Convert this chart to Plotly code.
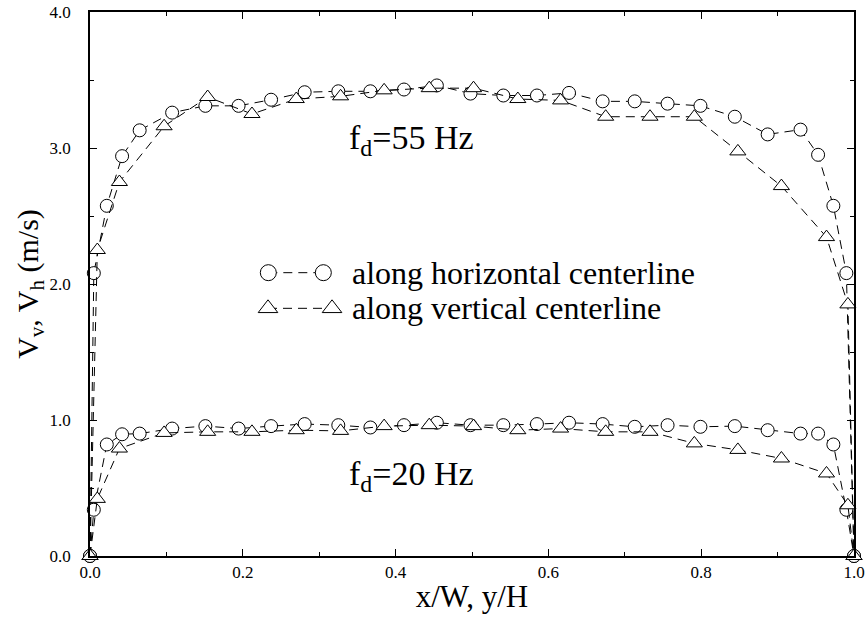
import plotly.graph_objects as go

# ---- data ----
x_h = [0.0, 0.005, 0.022, 0.042, 0.065, 0.1075, 0.151, 0.1945, 0.237, 0.281, 0.325, 0.367,
       0.411, 0.454, 0.498, 0.541, 0.585, 0.627, 0.671, 0.713, 0.756, 0.799, 0.844, 0.887,
       0.930, 0.953, 0.973, 0.990, 1.0]
v55_h = [0.0, 2.08, 2.575, 2.94, 3.13, 3.26, 3.31, 3.31, 3.355, 3.41, 3.417, 3.417, 3.43,
         3.46, 3.40, 3.386, 3.386, 3.405, 3.343, 3.343, 3.326, 3.31, 3.23, 3.10, 3.135, 2.95,
         2.575, 2.08, 0.0]
v20_h = [0.0, 0.34, 0.82, 0.895, 0.90, 0.937, 0.955, 0.937, 0.955, 0.97, 0.962, 0.945, 0.962,
         0.98, 0.962, 0.962, 0.97, 0.98, 0.97, 0.95, 0.962, 0.95, 0.955, 0.925, 0.90, 0.90,
         0.82, 0.34, 0.0]

x_v = [0.0, 0.0096, 0.0385, 0.097, 0.154, 0.212, 0.270, 0.328, 0.385, 0.444, 0.502, 0.560,
       0.616, 0.675, 0.733, 0.791, 0.848, 0.905, 0.964, 0.992, 1.0]
v55_v = [0.0, 2.25, 2.75, 3.16, 3.375, 3.25, 3.36, 3.38, 3.424, 3.44, 3.44, 3.36, 3.35, 3.23,
         3.23, 3.23, 2.975, 2.72, 2.345, 1.85, 0.0]
v20_v = [0.0, 0.42, 0.79, 0.905, 0.913, 0.913, 0.925, 0.92, 0.955, 0.962, 0.955, 0.925, 0.937,
         0.913, 0.913, 0.828, 0.78, 0.717, 0.607, 0.373, 0.0]

legend_labels = ["along horizontal centerline", "along vertical centerline"]
freq_labels = ["f<sub>d</sub>=55 Hz", "f<sub>d</sub>=20 Hz"]
x_ticks = [0.0, 0.2, 0.4, 0.6, 0.8, 1.0]
y_ticks = [0.0, 1.0, 2.0, 3.0, 4.0]

FONT = "Liberation Serif, Times New Roman, serif"
DASH = "9px,6px"

fig = go.Figure()

def add_series(x, y, symbol, size):
    fig.add_trace(go.Scatter(
        x=x, y=y, mode="lines+markers", cliponaxis=False, showlegend=False,
        line=dict(color="black", width=1, dash=DASH),
        marker=dict(symbol=symbol, size=size, color="white",
                    line=dict(color="black", width=1)),
    ))

add_series(x_h, v55_h, "circle", 13)
add_series(x_v, v55_v, "triangle-up", 14)
add_series(x_h, v20_h, "circle", 13)
add_series(x_v, v20_v, "triangle-up", 14)

# custom legend samples drawn on an overlay axis in plot-fraction units
leg_rows = [
    dict(x=[0.2334, 0.3054], y=0.5208, symbol="circle", size=16),
    dict(x=[0.233, 0.3168], y=0.4553, symbol="triangle-up", size=17),
]
for row in leg_rows:
    fig.add_trace(go.Scatter(
        x=row["x"], y=[row["y"], row["y"]], xaxis="x2", yaxis="y2",
        mode="lines+markers", showlegend=False, cliponaxis=False, hoverinfo="skip",
        line=dict(color="black", width=1, dash=DASH),
        marker=dict(symbol=row["symbol"], size=row["size"], color="white",
                    line=dict(color="black", width=1)),
    ))

annotations = []
for row, label in zip(leg_rows, legend_labels):
    annotations.append(dict(
        x=0.342, y=row["y"], xref="paper", yref="paper", xanchor="left", yanchor="middle",
        text=label, showarrow=False, borderpad=0,
        font=dict(family=FONT, size=32, color="black")))
for (yy, label) in zip([0.765, 0.147], freq_labels):
    annotations.append(dict(
        x=0.338, y=yy, xref="paper", yref="paper", xanchor="left", yanchor="middle",
        text=label, showarrow=False, borderpad=0,
        font=dict(family=FONT, size=34, color="black")))

axis_common = dict(
    showline=True, linecolor="black", linewidth=1.5, mirror="allticks",
    ticks="inside", ticklen=7, tickwidth=1, tickcolor="black",
    showgrid=False, zeroline=False, tickformat=".1f", automargin=False,
    ticklabeloverflow="allow",
    tickfont=dict(family=FONT, size=17, color="black"),
)

fig.update_layout(
    width=867, height=621,
    margin=dict(l=90, r=13, t=12, b=65),
    plot_bgcolor="white", paper_bgcolor="white",
    font=dict(family=FONT, color="black"),
    xaxis=dict(range=[0, 1], tickvals=x_ticks,
               minor=dict(dtick=0.1, ticks="inside", ticklen=4, tickcolor="black"),
               title=dict(text="x/W, y/H", font=dict(family=FONT, size=31), standoff=4),
               ticklabelstandoff=0,
               **axis_common),
    yaxis=dict(range=[0, 4], tickvals=y_ticks,
               minor=dict(dtick=0.5, ticks="inside", ticklen=4, tickcolor="black"),
               title=dict(text="V<sub>v</sub>, V<sub>h</sub> (m/s)",
                          font=dict(family=FONT, size=30), standoff=2),
               ticklabelstandoff=14,
               **axis_common),
    xaxis2=dict(range=[0, 1], overlaying="x", visible=False, fixedrange=True),
    yaxis2=dict(range=[0, 1], overlaying="y", visible=False, fixedrange=True),
    annotations=annotations,
)

# remove the default page margin so the figure sits at the window's corner
fig.write_html("out.html",
               config={"displayModeBar": False},
               post_script="document.body.style.margin='0';document.body.style.overflow='hidden';")
